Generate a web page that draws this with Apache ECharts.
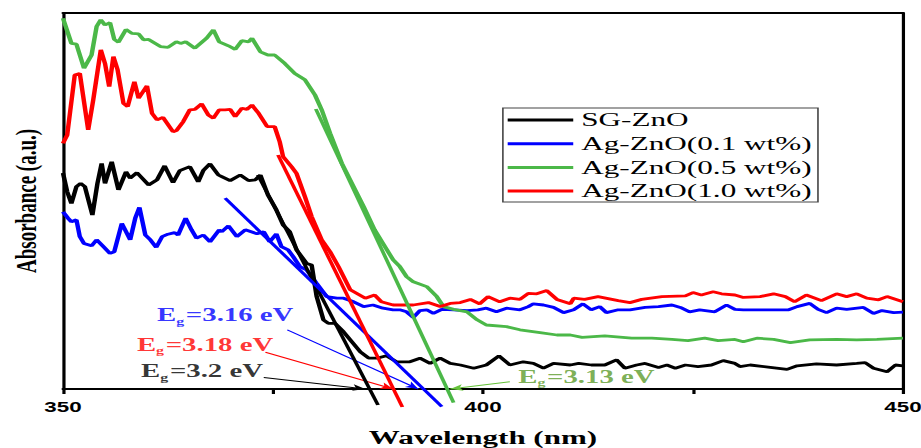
<!DOCTYPE html>
<html>
<head>
<meta charset="utf-8">
<title>Absorbance spectra</title>
<script src="https://cdn.jsdelivr.net/npm/echarts@6/dist/echarts.min.js"></script>
<style>
  html, body { margin: 0; padding: 0; background: #fff; overflow: hidden; }
  /* the original figure is stretched sideways, so draw narrow and stretch */
  #chart { width: 576px; height: 448px; transform: scaleX(1.599); transform-origin: 0 0; }
</style>
</head>
<body>
<div id="chart"></div>
<script>
// [wavelength (nm), absorbance (a.u.)]
const sgZnO = [[350,54],[350.5,49.3],[351,46.4],[351.6,50.6],[352.1,51.4],[352.6,50.6],[353.5,43.5],[354.1,51.4],[354.6,56.4],[355,51.4],[355.8,56.8],[356.6,49.8],[357.5,54.3],[358,52.7],[358.8,54.1],[360.2,51],[361.2,52.3],[362.1,55.8],[363.1,51.6],[363.9,54.6],[365.1,55.6],[366.1,51.8],[366.7,54.6],[367.5,56.3],[368.5,53.5],[368.9,53.1],[369.9,52.1],[371.1,53.5],[372.1,52.1],[372.9,52.3],[373.5,53.5],[374.4,48.5],[375.4,44.8],[376.2,41],[377,39.3],[377.8,34.8],[379,31.4],[379.6,31],[380.2,23.1],[381,17.3],[381.6,16.4],[382.4,16.4],[383.4,14.3],[384.4,11.8],[385.4,9.3],[386.4,7.7],[387.4,7.7],[388.5,8.3],[389.7,6.8],[391.3,6.8],[392.5,7.7],[393.7,6.4],[394.9,7.7],[396.1,6.4],[397.3,6],[398.9,5.2],[400.4,6],[401.9,8.3],[403.2,6],[404.8,6.8],[406,6.4],[407.2,5.2],[408.4,6.4],[410.4,6],[411.4,6.4],[412.9,6],[414.5,6],[415.9,7.3],[416.9,5.2],[418.3,6],[419.3,6.4],[420.9,5.4],[421.9,6],[422.9,5.2],[424.1,6],[425.6,5.6],[427.2,6],[428.6,7.1],[430,6.4],[430.6,5.6],[431.8,6],[434.2,5.4],[436.2,4.9],[437.4,5.8],[439.7,6.3],[442.1,6],[444.5,6.4],[445.5,6.6],[446.5,5.2],[448.1,4.3],[449.1,6],[450,5.8]]

const agZnO01 = [[350,44.3],[350.6,42.7],[351,41.8],[351.6,42.3],[352,38.1],[352.5,36.4],[353.4,35.8],[354,37.3],[354.8,35.6],[355.6,33.9],[356.1,34.3],[357,41.4],[358,37.3],[358.6,42.7],[359.1,45.4],[359.8,38.5],[360.4,37.3],[361.1,35.4],[361.8,38.1],[362.5,38.7],[363.3,39.1],[363.7,38.5],[364.6,42.7],[365.3,39.8],[365.9,37.7],[366.7,38.5],[367.5,36.8],[368.6,39.8],[368.9,39.3],[369.7,40.8],[370.7,38.1],[371.7,39.8],[373.1,38.8],[373.9,39.3],[374.6,36.8],[375.4,38.8],[376,35.6],[376.8,34.8],[377.4,33.1],[378.2,30.6],[379,29.8],[380.2,26.4],[381.4,23.1],[382.6,22.7],[383.4,22.7],[384.6,21.8],[385.8,20.6],[386.9,21],[388.1,20.2],[389.3,19.8],[390.1,19.8],[390.9,19.3],[391.7,17.9],[392.5,19.6],[393.3,19.8],[394.1,18.9],[395.1,19.9],[396.5,19.8],[398.1,19.6],[399.4,19.8],[400.4,20.2],[401.6,19.3],[402.8,20.2],[404.4,19.8],[405.4,20.6],[406,21.3],[407.2,21],[408.4,20.4],[409.6,19.1],[410.8,19.8],[411.9,21.3],[412.9,19.8],[413.9,20.6],[414.7,19.1],[416.1,19.8],[417.5,19.8],[419.3,20.4],[420.9,20.6],[422.5,21],[423.5,20.4],[424.6,19.3],[425.8,19.8],[427.6,19.3],[429,21],[430,19.9],[431,19.8],[433,19.8],[436.4,19.8],[437.4,20.6],[438.9,21.4],[439.9,19.9],[440.9,19.1],[442.1,20.2],[443.3,19.9],[445.3,20.4],[446.5,18.9],[447.5,19.6],[448.9,19.1],[450,19.2]]

const agZnO05 = [[350,92.7],[350.6,88.9],[351,86.4],[351.6,86.2],[352.5,80.2],[353.4,83.5],[354,90.6],[354.5,92.3],[355,91],[355.6,91.6],[356.1,87.4],[356.6,86.7],[357.5,89.9],[358.2,88.9],[359,88.8],[359.6,87.3],[360.2,87.4],[361.6,85.6],[362.5,85.4],[363.5,86.8],[364,86.4],[364.6,86.8],[365.7,85.2],[367.1,87.7],[367.9,89.8],[368.6,86.8],[369.7,85.8],[370.5,84.9],[371.3,87.1],[372.1,86.8],[372.5,87.7],[373.5,84.3],[374.4,83.5],[375.2,83.5],[376.4,81.4],[377.6,78.9],[378.8,77.3],[380,73.5],[380.8,69.8],[381.8,63.9],[383.2,56.4],[384.4,51.4],[385.8,45.6],[387.1,39.8],[388.1,36.4],[389.3,32.3],[390.1,30.6],[390.9,28.1],[391.7,26.8],[393.3,25.6],[394.5,23.1],[395.3,20.6],[396.5,19.9],[398.1,19.3],[399.3,17.3],[400.4,16],[402.8,15.6],[404.4,14.8],[406.8,14.1],[408.8,13.5],[410.4,13.5],[411.8,12.9],[414.5,13.3],[417.7,12.7],[420.1,12.7],[422.5,12.4],[424.4,12.1],[426.4,12.7],[428,12.1],[430,12.4],[431,11.8],[432.6,12.7],[434.6,12.4],[436.6,11.6],[438.9,12.3],[442.1,12.4],[444.5,12.3],[446.9,12.4],[450,12.7]]

const agZnO10 = [[350,61.4],[350.5,63.5],[351.4,78.5],[352,78.9],[353,64.8],[353.6,72.3],[354.5,84.8],[355,81.4],[355.5,75.6],[356,83.1],[356.5,79.8],[357.2,71.4],[357.7,70.6],[358.5,76.8],[359,72.7],[360,75.8],[360.6,68.9],[361.2,67.3],[361.9,67.9],[363.1,64.3],[363.5,64.6],[364.3,66.8],[365.1,69.8],[365.7,69.9],[366.5,71.3],[367.3,68.5],[367.9,67.7],[368.6,69.8],[369.3,69.8],[369.9,69.9],[370.5,68.1],[371.3,70.2],[371.9,69.9],[372.5,71],[373.3,68.9],[374.3,65.6],[375.2,65.6],[375.8,61.8],[376.2,58.1],[377.2,55.6],[377.8,53.9],[378.8,48.1],[379.6,43.1],[380.8,37.3],[381.8,34.3],[382.8,30.6],[384.2,24.8],[386,22.7],[387.1,23.5],[387.9,21.8],[389.3,21],[391.7,21],[393.5,21.6],[394.9,20.6],[396.1,21.4],[397.3,21.6],[398.5,22.4],[399.6,21.3],[400.6,23.1],[402,21.8],[403.2,22.7],[404.4,22.4],[405.4,23.9],[406.4,23.8],[407.6,24.6],[408.8,22.4],[410.4,21.3],[410.8,22.7],[412.1,22.4],[413.7,23.1],[416.1,22.1],[417.5,21.6],[418.9,22.4],[421.3,23.1],[424.1,23.3],[425,24.1],[426,23.5],[427.4,24.3],[428.4,23.8],[430,23.5],[431,22.9],[433,23.1],[434.6,23.8],[436,23.1],[437.1,21.8],[438.5,23.5],[440.3,22.1],[442.1,23.8],[443.3,23.1],[444.5,23.8],[445.7,22.7],[447.1,22.3],[448.1,23.1],[450,21.8]]

// linear fits of the absorption edge
const sgTangent = [[373.2,53.5],[387.5,-4]]
const ag01Tangent = [[369.3,47.7],[395.1,-4.4]]
const ag05Tangent = [[380.1,70],[396.5,-3.4]]
const ag10Tangent = [[375.6,58.5],[390.4,-4.5]]

// band gap labels: text, label anchor, arrow start, arrow end
const gapTexts = ['=3.2 eV', '=3.16 eV', '=3.13 eV', '=3.18 eV']
const gapAnchors = [[359.3,4.4],[361.2,18.4],[404.2,3],[358.8,11]]
const arrowFrom = [[373.9,2.9],[376.7,14.8],[403.2,1.8],[374.1,9.2]]
const arrowTo = [[386,0],[392.3,0],[396.1,0],[389.3,0]]

const names = ['SG-ZnO', 'Ag-ZnO(0.1 wt%)', 'Ag-ZnO(0.5 wt%)', 'Ag-ZnO(1.0 wt%)']
const colors = ['#000000', '#0000ff', '#4bb848', '#ff0000']
const textColors = ['#000000', '#0000ff', '#5b9b2a', '#ff0000']
const arrowColors = ['#000000', '#0000ff', '#66c23a', '#ff0000']
const xTicks = [350, 400, 450]

const curves = [sgZnO, agZnO01, agZnO05, agZnO10]
const tangents = [sgTangent, ag01Tangent, ag05Tangent, ag10Tangent]

const chart = echarts.init(document.getElementById('chart'), null, { renderer: 'svg' })

const serif = 'Liberation Serif, Times New Roman, serif'

const series = []
curves.forEach((d, i) => {
  series.push({
    name: names[i],
    type: 'line',
    data: d,
    showSymbol: false,
    lineStyle: { color: colors[i], width: 2.8 },
    itemStyle: { color: colors[i] },
    z: 3 + (i === 0 ? 1 : 0)
  })
})
tangents.forEach((d, i) => {
  series.push({
    name: 'fit' + i,
    type: 'line',
    data: d,
    showSymbol: false,
    clip: false,
    lineStyle: { color: colors[i], width: 2.4 },
    z: 5
  })
})

series.push({
  name: 'notes',
  type: 'scatter',
  symbolSize: 0,
  silent: true,
  z: 6,
  data: gapAnchors.map((p, i) => ({
    value: p,
    label: {
      show: true,
      position: 'right',
      distance: 0,
      formatter: '{e|E}{s|g}{t|' + gapTexts[i] + '}',
      rich: {
        e: { fontFamily: serif, fontWeight: 'bold', fontSize: 18, color: textColors[i] },
        s: { fontFamily: serif, fontWeight: 'bold', fontSize: 10, color: textColors[i], padding: [12, 1, 0, 0] },
        t: { fontFamily: serif, fontWeight: 'bold', fontSize: 18, color: textColors[i] }
      }
    }
  })),
  markLine: {
    silent: true,
    symbol: ['none', 'arrow'],
    symbolSize: [5, 8],
    label: { show: false },
    lineStyle: { type: 'solid', width: 1 },
    data: arrowFrom.map((p, i) => [
      { coord: p, lineStyle: { color: arrowColors[i], type: 'solid', width: 1 }, itemStyle: { color: arrowColors[i] } },
      { coord: arrowTo[i] }
    ])
  }
})

chart.setOption({
  animation: false,
  backgroundColor: '#fff',
  grid: {
    left: 39.4,
    right: 11.3,
    top: 13,
    bottom: 59,
    outerBoundsMode: 'none'
  },
  legend: {
    data: names,
    orient: 'vertical',
    left: 314.5,
    top: 108,
    icon: 'rect',
    itemWidth: 41,
    itemHeight: 3,
    itemGap: 3.7,
    padding: [2, 4, 1, 3],
    borderColor: '#444',
    borderWidth: 1,
    textStyle: { fontFamily: serif, fontSize: 19.5, color: '#000', lineHeight: 20 }
  },
  xAxis: [{
    type: 'value',
    min: 350,
    max: 450,
    interval: 25,
    name: 'Wavelength (nm)',
    nameLocation: 'middle',
    nameGap: 39,
    nameTextStyle: { fontFamily: serif, fontWeight: 'bold', fontSize: 19.4, color: '#000' },
    axisLine: { onZero: false, lineStyle: { color: '#000', width: 2 } },
    axisTick: { show: true, length: 5, lineStyle: { color: '#000', width: 2 } },
    axisLabel: {
      margin: 11,
      color: '#000',
      fontFamily: 'Liberation Sans, Arial, sans-serif',
      fontWeight: 'bold',
      fontSize: 14,
      formatter: v => (xTicks.indexOf(v) >= 0 ? String(v) : '')
    },
    splitLine: { show: false }
  }, {
    type: 'value',
    min: 350,
    max: 450,
    position: 'top',
    axisLine: { show: true, onZero: false, lineStyle: { color: '#000', width: 2 } },
    axisTick: { show: false },
    axisLabel: { show: false },
    splitLine: { show: false }
  }],
  yAxis: [{
    type: 'value',
    min: 0,
    max: 94,
    name: 'Absorbance (a.u.)',
    nameLocation: 'middle',
    nameGap: 14,
    nameTextStyle: { fontFamily: serif, fontWeight: 'bold', fontSize: 19, color: '#000' },
    axisLine: { show: true, onZero: false, lineStyle: { color: '#000', width: 2 } },
    axisTick: { show: false },
    axisLabel: { show: false },
    splitLine: { show: false }
  }, {
    type: 'value',
    min: 0,
    max: 94,
    position: 'right',
    axisLine: { show: true, onZero: false, lineStyle: { color: '#000', width: 2 } },
    axisTick: { show: false },
    axisLabel: { show: false },
    splitLine: { show: false }
  }],
  series: series
})
</script>
</body>
</html>
